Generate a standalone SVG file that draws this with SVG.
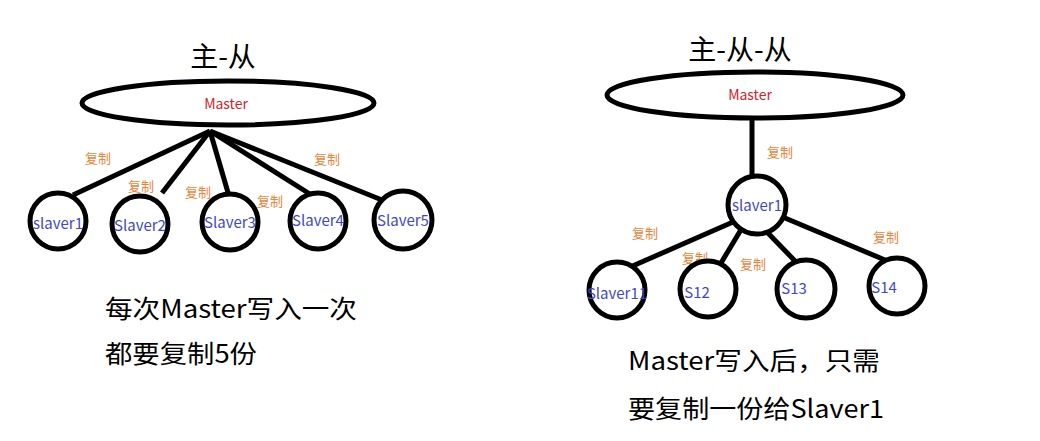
<svg xmlns="http://www.w3.org/2000/svg" width="1040" height="441" viewBox="0 0 1040 441">
<style>
.s{fill:none;stroke:#000;stroke-width:5}
.e{fill:#fff;stroke:#000;stroke-width:5}
text{font-family:"Microsoft YaHei","Noto Sans CJK SC",sans-serif}
.m{fill:#d2232a;font-size:14px;text-anchor:middle}
.n{fill:#3f48cc;font-size:15px;text-anchor:middle}
.c{fill:#e8853a;font-size:13px;text-anchor:middle}
.t{fill:#000;font-size:28px;text-anchor:middle}
.b{fill:#000;font-size:25px}
</style>
<rect width="1040" height="441" fill="#fff"/>
<g id="connectors">
<line class="s" x1="210" y1="131" x2="73" y2="195"/>
<line class="s" x1="210" y1="131" x2="162" y2="193"/>
<line class="s" x1="210" y1="131" x2="229" y2="196"/>
<line class="s" x1="210" y1="131" x2="313" y2="196"/>
<line class="s" x1="210" y1="131" x2="382" y2="200"/>
<line class="s" x1="752" y1="118" x2="752" y2="178"/>
<line class="s" x1="733" y1="222" x2="628" y2="268"/>
<line class="s" x1="742" y1="228" x2="718" y2="268"/>
<line class="s" x1="765" y1="230" x2="796" y2="262"/>
<line class="s" x1="785" y1="218" x2="885" y2="260"/>
<text class="c" x="98" y="163">复制</text>
<text class="c" x="141" y="191">复制</text>
<text class="c" x="198" y="197">复制</text>
<text class="c" x="270" y="206">复制</text>
<text class="c" x="327" y="164">复制</text>
<text class="c" x="780" y="157">复制</text>
<text class="c" x="645" y="238">复制</text>
<text class="c" x="695" y="263">复制</text>
<text class="c" x="753" y="269">复制</text>
<text class="c" x="886" y="242">复制</text>
</g>
<text class="t" x="223" y="67">主-从</text>
<text class="t" x="740" y="60">主-从-从</text>
<g id="master1"><ellipse class="e" cx="228" cy="103" rx="146" ry="22"/><text class="m" x="226" y="109">Master</text></g>
<g id="slaver1"><circle class="e" cx="58" cy="221" r="28"/><text class="n" x="58" y="229">slaver1</text></g>
<g id="slaver2"><circle class="e" cx="140" cy="224" r="28"/><text class="n" x="140" y="231">Slaver2</text></g>
<g id="slaver3"><circle class="e" cx="230" cy="222" r="28"/><text class="n" x="230" y="228">Slaver3</text></g>
<g id="slaver4"><circle class="e" cx="318" cy="221" r="28"/><text class="n" x="318" y="226">Slaver4</text></g>
<g id="slaver5"><circle class="e" cx="403" cy="220" r="29"/><text class="n" x="403" y="226">Slaver5</text></g>
<g id="master2"><ellipse class="e" cx="755" cy="95" rx="148" ry="23"/><text class="m" x="750" y="100">Master</text></g>
<g id="s1"><circle class="e" cx="757" cy="205" r="29"/><text class="n" x="757" y="211">slaver1</text></g>
<g id="s11"><circle class="e" cx="617" cy="290" r="28"/><text class="n" x="617" y="299">Slaver11</text></g>
<g id="s12"><circle class="e" cx="708" cy="289" r="28"/><text class="n" x="697" y="298">S12</text></g>
<g id="s13"><circle class="e" cx="806" cy="289" r="29"/><text class="n" x="794" y="294">S13</text></g>
<g id="s14"><circle class="e" cx="897" cy="286" r="28"/><text class="n" x="884" y="293">S14</text></g>
<text class="b" x="105" y="318" textLength="252" lengthAdjust="spacingAndGlyphs">每次Master写入一次</text>
<text class="b" x="105" y="363" textLength="152" lengthAdjust="spacingAndGlyphs">都要复制5份</text>
<text class="b" x="628" y="370" textLength="252" lengthAdjust="spacingAndGlyphs">Master写入后，只需</text>
<text class="b" x="628" y="418" textLength="256" lengthAdjust="spacingAndGlyphs">要复制一份给Slaver1</text>
</svg>
